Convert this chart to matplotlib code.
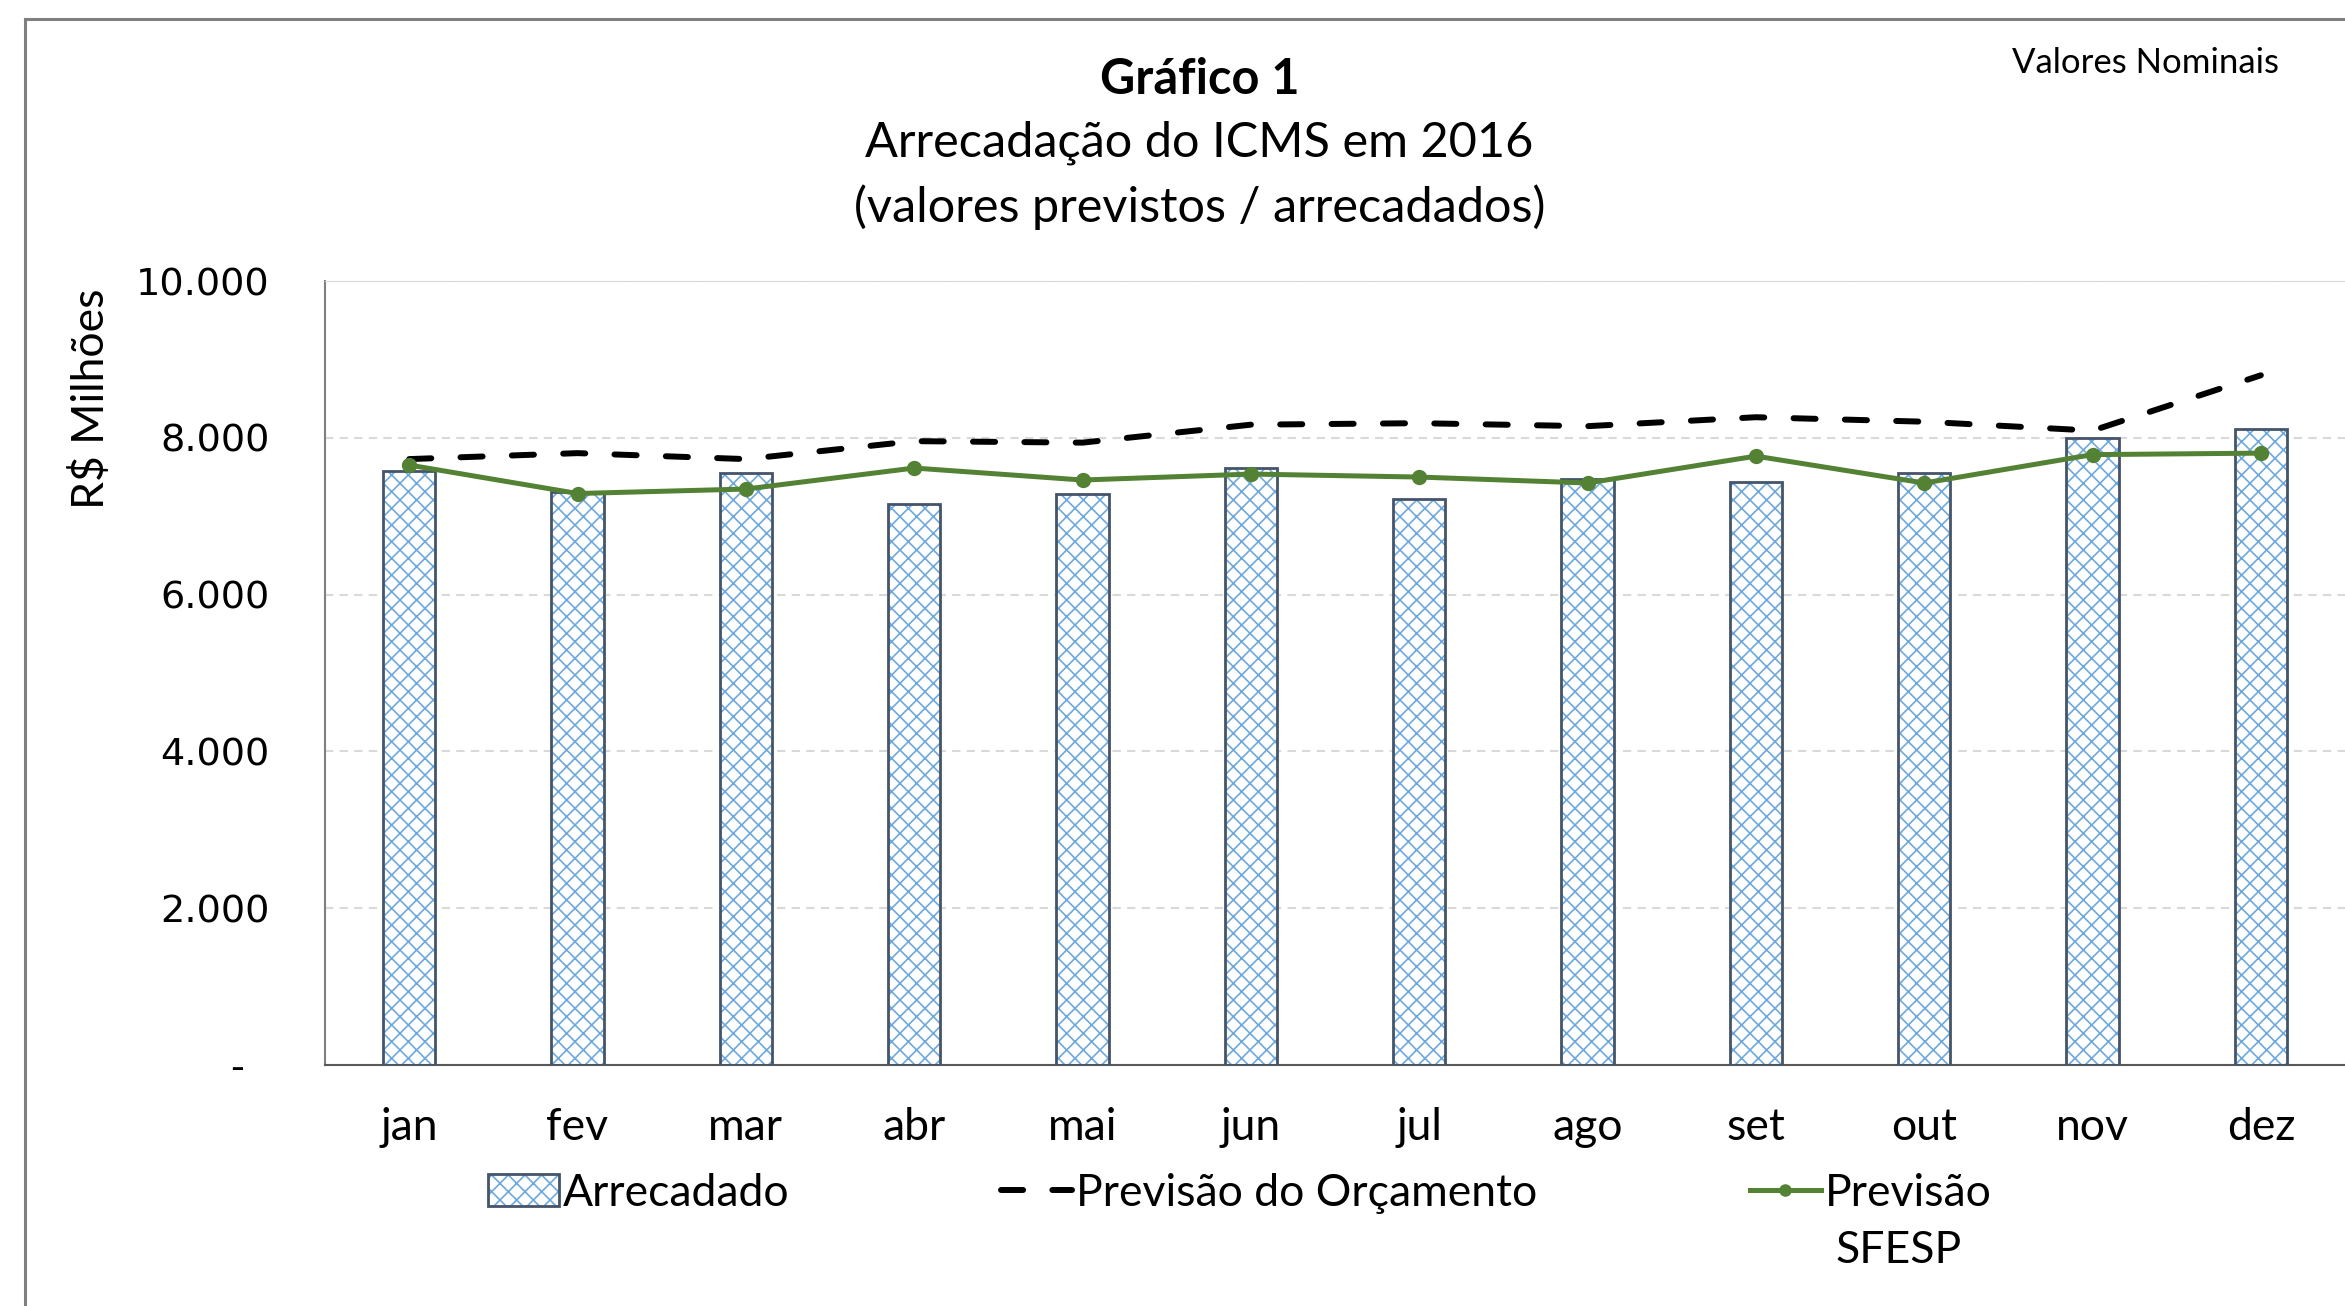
import numpy as np
import matplotlib.pyplot as plt
from matplotlib.patches import Patch
from matplotlib.lines import Line2D
from matplotlib.legend_handler import HandlerTuple
from matplotlib.ticker import FuncFormatter

meses = ['jan', 'fev', 'mar', 'abr', 'mai', 'jun', 'jul', 'ago', 'set', 'out', 'nov', 'dez']
arrecadado = [7576, 7309, 7557, 7156, 7290, 7615, 7214, 7481, 7443, 7557, 7996, 8111]
previsao_orcamento = [7729, 7805, 7729, 7958, 7939, 8168, 8187, 8149, 8263, 8206, 8092, 8798]
previsao_sfesp = [7653, 7290, 7347, 7615, 7462, 7538, 7500, 7424, 7767, 7424, 7786, 7805]

plt.rcParams['font.family'] = ['Lato', 'DejaVu Sans']
plt.rcParams['hatch.linewidth'] = 1.2

azul_hatch = '#6fa8dc'
borda_barra = '#44546a'
verde = '#548235'

fig = plt.figure(figsize=(23.45, 13.06), dpi=100)
ax = fig.add_axes([0.1386, 0.1845, 0.8614, 0.6003])

x = np.arange(len(meses))
ax.bar(x, arrecadado, width=0.31, color='white', edgecolor=azul_hatch, hatch='xx', linewidth=0, zorder=2)
ax.bar(x, arrecadado, width=0.31, fill=False, edgecolor=borda_barra, linewidth=2, zorder=3)
ax.plot(x, previsao_orcamento, color='black', lw=4.3, linestyle=(0, (3.7, 4.9)),
        dash_capstyle='round', zorder=4)
ax.plot(x, previsao_sfesp, color=verde, lw=3.6, marker='o', ms=10, zorder=5)

ax.set_xlim(-0.5, 11.5)
ax.set_ylim(0, 10000)
ax.set_yticks([0, 2000, 4000, 6000, 8000, 10000])
ax.yaxis.set_major_formatter(FuncFormatter(
    lambda v, p: '-  ' if v == 0 else f'{int(v):,}'.replace(',', '.')))
ax.set_xticks(x)
ax.set_xticklabels(meses, fontsize=32)
ax.tick_params(axis='x', length=0, pad=30)
ax.tick_params(axis='y', length=0, pad=40)
for t in ax.get_yticklabels():
    t.set_fontfamily('DejaVu Sans')
    t.set_fontsize(27.5)

ax.yaxis.grid(True, color='#d9d9d9', linestyle=(0, (4, 3)), linewidth=1.5, zorder=0)
ax.set_axisbelow(True)
ax.spines['right'].set_visible(False)
ax.spines['top'].set_color('#d9d9d9')
ax.spines['left'].set_color('#7f7f7f')
ax.spines['bottom'].set_color('#595959')
ax.spines['left'].set_linewidth(1.5)
ax.spines['bottom'].set_linewidth(1.5)

# titulo
fig.text(0.5115, 0.9395, 'Gráfico 1', ha='center', va='center', fontsize=35, fontweight='bold')
fig.text(0.5115, 0.8905, 'Arrecadação do ICMS em 2016', ha='center', va='center', fontsize=35)
fig.text(0.5115, 0.8413, '(valores previstos / arrecadados)', ha='center', va='center', fontsize=35)
fig.text(0.915, 0.952, 'Valores Nominais', ha='center', va='center', fontsize=25)
fig.text(0.0389, 0.6948, 'R$ Milhões', ha='center', va='center', rotation=90, fontsize=32)

# moldura
fig.add_artist(Line2D([25 / 2345, 1], [1 - 19 / 1306, 1 - 19 / 1306], color='#7f7f7f', lw=2.2))
fig.add_artist(Line2D([25 / 2345, 25 / 2345], [0, 1 - 19 / 1306], color='#7f7f7f', lw=2.2))

# legenda
h1 = (Patch(facecolor='white', edgecolor=azul_hatch, hatch='xx', linewidth=0),
      Patch(fill=False, edgecolor=borda_barra, linewidth=2))
h2 = Line2D([], [], color='black', lw=4.3, linestyle=(0, (3.7, 4.9)), dash_capstyle='round')
h3 = Line2D([], [], color=verde, lw=3.6, marker='o', ms=8)
leg_kw = dict(loc='center left', frameon=False, fontsize=32, borderpad=0, borderaxespad=0,
              handlelength=1.6, handleheight=0.72, handletextpad=0.1)
fig.legend([h1], ['Arrecadado'], bbox_to_anchor=(0.2079, 0.0865),
           handler_map={tuple: HandlerTuple(ndivide=1, pad=0)}, **leg_kw)
fig.legend([h2], ['Previsão do Orçamento'], bbox_to_anchor=(0.4267, 0.0865), **leg_kw)
fig.legend([h3], ['Previsão'], bbox_to_anchor=(0.7461, 0.0865), **leg_kw)
fig.text(0.8095, 0.0425, 'SFESP', ha='center', va='center', fontsize=32)

fig.savefig('out.png', dpi=100)
